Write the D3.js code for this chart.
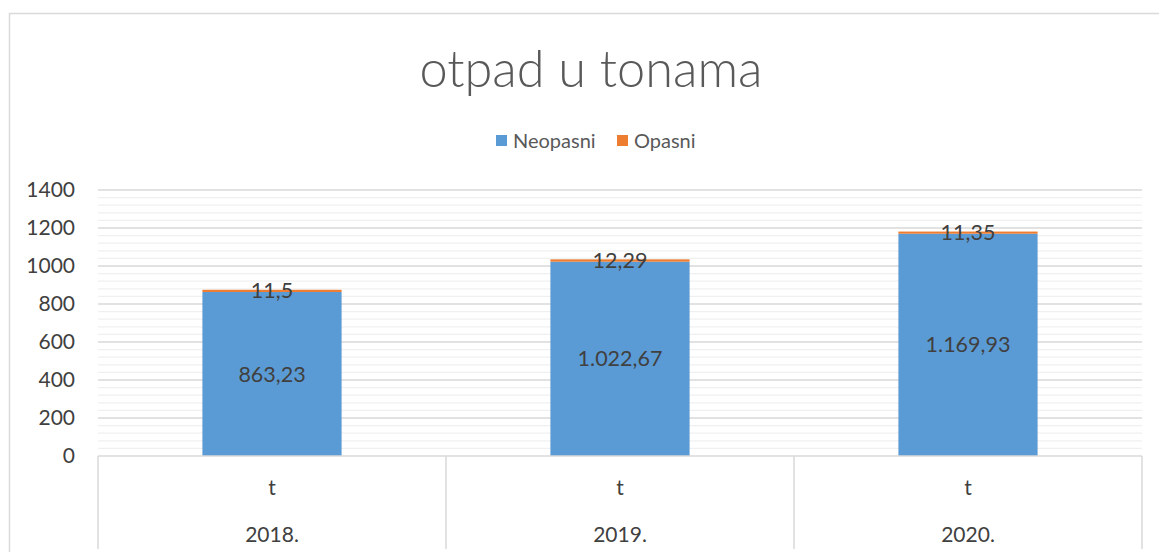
<!DOCTYPE html>
<html><head><meta charset="utf-8">
<script src="https://cdn.jsdelivr.net/npm/d3@7"></script>
<style>body{margin:0;background:#fff}svg{display:block}text{font-family:Lato,"Open Sans",sans-serif}</style>
</head><body><svg id="c" width="1159" height="552"></svg>
<script>
const years = ["2018.", "2019.", "2020."];
const unitLabel = "t";
const neopasni = [863.23, 1022.67, 1169.93];
const opasni = [11.5, 12.29, 11.35];
const seriesNames = ["Neopasni", "Opasni"];
const seriesColors = ["#5B9BD5", "#ED7D31"];
const yTicks = [0, 200, 400, 600, 800, 1000, 1200, 1400];
const titleText = "otpad u tonama";

const svg = d3.select("#c");
const m = {left: 98, right: 1142, top: 190, bottom: 456};

svg.append("rect").attr("x", 9.5).attr("y", 13.5).attr("width", 1300).attr("height", 700)
  .attr("fill", "#fff").attr("stroke", "#d9d9d9").attr("stroke-width", 1.5);

const x = d3.scaleBand().domain(years).range([m.left, m.right]).paddingInner(0).paddingOuter(0);
const y = d3.scaleLinear().domain([0, 1400]).range([m.bottom, m.top]);

// minor gridlines
const minor = d3.range(0, 1401, 40).filter(v => v % 200 !== 0);
svg.append("g").selectAll("line").data(minor).join("line")
  .attr("x1", m.left).attr("x2", m.right)
  .attr("y1", d => y(d)).attr("y2", d => y(d))
  .attr("stroke", "#f0f0f0").attr("stroke-width", 1.3);
// major gridlines
svg.append("g").selectAll("line").data(yTicks.filter(v => v > 0)).join("line")
  .attr("x1", m.left).attr("x2", m.right)
  .attr("y1", d => y(d)).attr("y2", d => y(d))
  .attr("stroke", "#d9d9d9").attr("stroke-width", 1.5);

// y axis labels
const yAxis = d3.axisLeft(y).tickValues(yTicks).tickFormat(d3.format("d")).tickSize(0).tickPadding(23);
const ya = svg.append("g").attr("transform", `translate(${m.left},0)`).call(yAxis);
ya.select(".domain").remove();
ya.selectAll("text").attr("font-size", 21).attr("fill", "#404040").attr("font-family", "Lato");

// stacked bars
const data = years.map((yr, i) => ({year: yr, Neopasni: neopasni[i], Opasni: opasni[i]}));
const stack = d3.stack().keys(seriesNames)(data);
const bw = x.bandwidth() * 0.4;
const fmt = d3.formatLocale({decimal: ",", thousands: ".", grouping: [3], currency: ["", ""]}).format(",.2~f");

stack.forEach((s, si) => {
  svg.append("g").selectAll("rect").data(s).join("rect")
    .attr("x", d => x(d.data.year) + (x.bandwidth() - bw) / 2)
    .attr("width", bw)
    .attr("y", d => y(d[1]))
    .attr("height", d => y(d[0]) - y(d[1]))
    .attr("fill", seriesColors[si]);
});
stack.forEach((s, si) => {
  svg.append("g").selectAll("text").data(s).join("text")
    .attr("x", d => x(d.data.year) + x.bandwidth() / 2)
    .attr("y", d => (y(d[0]) + y(d[1])) / 2)
    .attr("dy", "0.35em")
    .attr("text-anchor", "middle")
    .attr("font-size", 21.5).attr("fill", "#404040")
    .text(d => fmt(d[1] - d[0]));
});

// x axis table
const ax = svg.append("g");
ax.append("line").attr("x1", m.left).attr("x2", m.right).attr("y1", m.bottom).attr("y2", m.bottom)
  .attr("stroke", "#d9d9d9").attr("stroke-width", 1.5);
const bounds = years.map(d => x(d)).concat([x(years[years.length - 1]) + x.bandwidth()]);
ax.selectAll("line.v").data(bounds).join("line").attr("class", "v")
  .attr("x1", d => d).attr("x2", d => d).attr("y1", m.bottom).attr("y2", 549)
  .attr("stroke", "#d9d9d9").attr("stroke-width", 1.5);
ax.selectAll("text.u").data(years).join("text").attr("class", "u")
  .attr("x", d => x(d) + x.bandwidth() / 2).attr("y", 488).attr("dy", "0.35em")
  .attr("text-anchor", "middle").attr("font-size", 21).attr("fill", "#404040").text(unitLabel);
ax.selectAll("text.yr").data(years).join("text").attr("class", "yr")
  .attr("x", d => x(d) + x.bandwidth() / 2).attr("y", 535).attr("dy", "0.35em")
  .attr("text-anchor", "middle").attr("font-size", 21).attr("fill", "#404040").text(d => d);

// title
svg.append("text").attr("x", 591).attr("y", 87).attr("text-anchor", "middle")
  .attr("font-size", 50.5).attr("fill", "#595959").attr("font-weight", 300).text(titleText);

// legend
const leg = svg.append("g");
const legX = [496, 617];
seriesNames.forEach((n, i) => {
  leg.append("rect").attr("x", legX[i]).attr("y", 135).attr("width", 11).attr("height", 11).attr("fill", seriesColors[i]);
  leg.append("text").attr("x", legX[i] + 17).attr("y", 141).attr("dy", "0.35em")
    .attr("font-size", 20).attr("fill", "#595959").text(n);
});
</script></body></html>
